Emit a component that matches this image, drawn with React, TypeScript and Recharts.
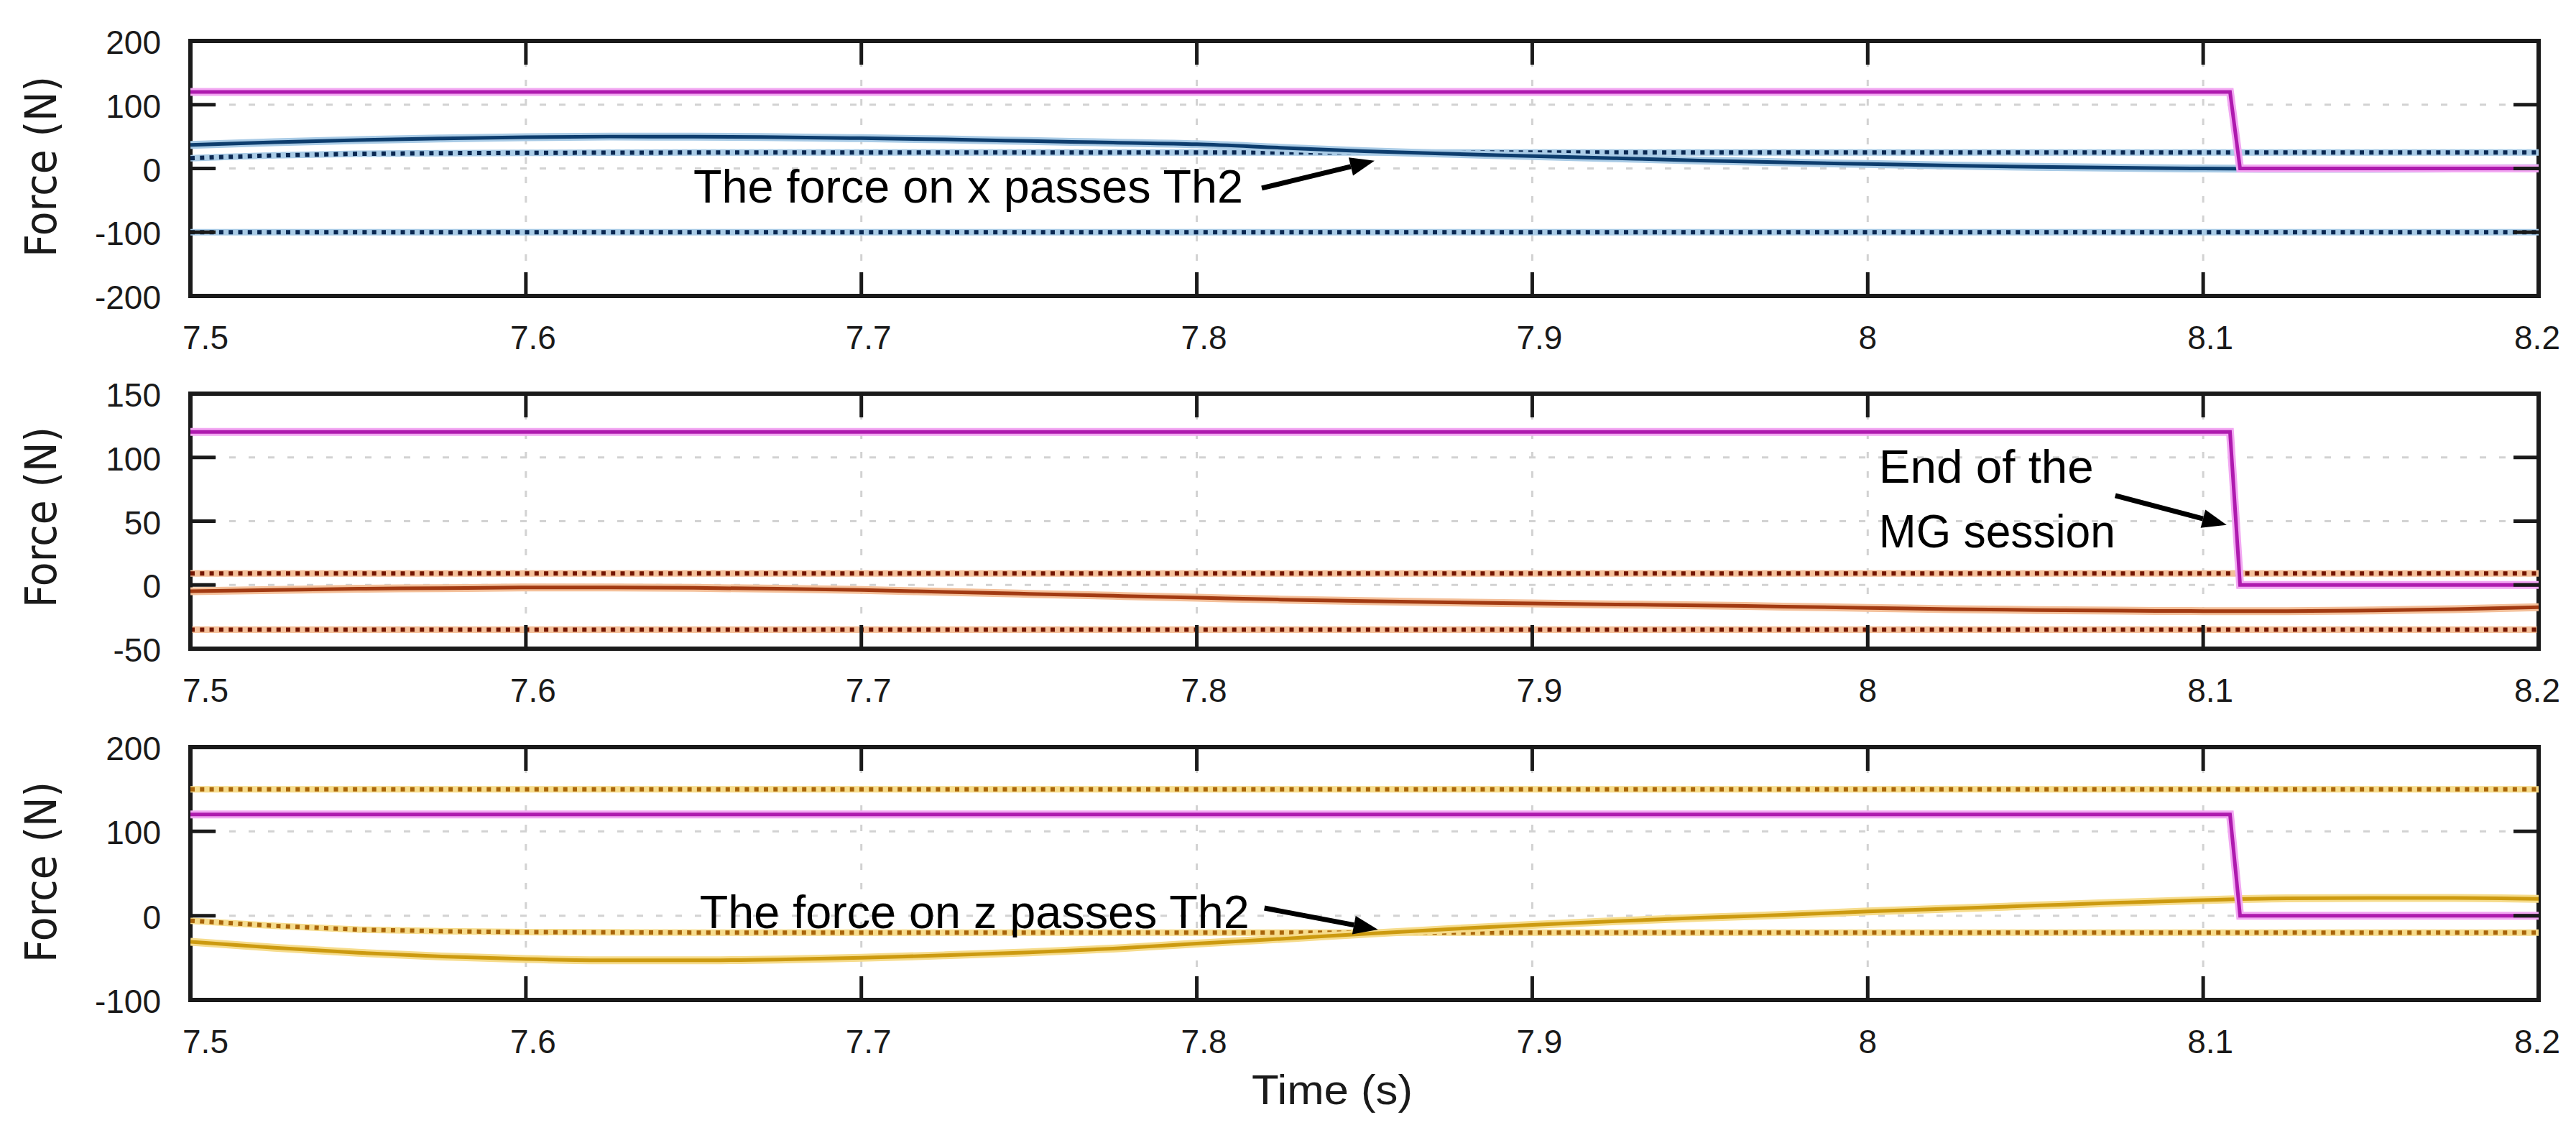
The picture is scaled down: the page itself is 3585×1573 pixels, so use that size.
import React from 'react';
import { LineChart, Line, XAxis, YAxis, CartesianGrid, ReferenceArea, ReferenceDot } from 'recharts';

// ---------------- data ----------------
const timeTicks = [7.5, 7.6, 7.7, 7.8, 7.9, 8.0, 8.1, 8.2];
const timeTickLabels = ['7.5', '7.6', '7.7', '7.8', '7.9', '8', '8.1', '8.2'];

const forceTime = [7.5, 7.525, 7.55, 7.575, 7.6, 7.625, 7.65, 7.675, 7.7, 7.725, 7.75, 7.775, 7.8, 7.825, 7.85, 7.875, 7.9, 7.925, 7.95, 7.975, 8.0, 8.025, 8.05, 8.075, 8.1, 8.125, 8.15, 8.175, 8.2];

const forceX = [37, 41, 44.5, 47, 49, 50, 50, 49, 47.5, 45.5, 43, 40.5, 38, 32.5, 27, 23, 19.5, 16, 12.5, 9.5, 7, 4.5, 2.5, 1, 0, -0.5, -0.5, 0, 0.5];
const forceY = [-5, -4, -3, -2.5, -2, -2, -2.3, -3, -4, -5.5, -7, -8.5, -10, -11.5, -12.7, -13.7, -14.5, -15.3, -16, -17, -18, -19, -19.7, -20.2, -20.5, -20.5, -20, -19, -17.5];
const forceZ = [-31, -38, -44, -48.5, -51.5, -53, -53, -52, -50, -47, -43.5, -39, -33, -27.5, -21.5, -16, -11, -6.5, -2.5, 1, 5, 8.5, 12, 15.5, 18.5, 20.5, 21, 21, 20];

const mgTime = [7.5, 8.108, 8.111, 8.2];
const mgValue = [120, 120, 0, 0];

const thXUpperTime = [7.5, 7.51, 7.525, 7.55, 7.575, 7.6, 7.65, 8.2];
const thXUpper = [16, 18, 20.5, 23, 24, 24.5, 25, 25];
const thXLowerTime = [7.5, 8.2];
const thXLower = [-100, -100];

const thYTime = [7.5, 8.2];
const thYUpper = [9, 9];
const thYLower = [-35, -35];

const thZUpperTime = [7.5, 8.2];
const thZUpper = [150, 150];
const thZLowerTime = [7.5, 7.525, 7.55, 7.575, 7.6, 7.65, 8.2];
const thZLower = [-6, -12, -16.5, -18.5, -19.5, -20, -20];

const yTicks1 = [-200, -100, 0, 100, 200];
const yTicks2 = [-50, 0, 50, 100, 150];
const yTicks3 = [-100, 0, 100, 200];

const toRows = (ts: number[], vs: number[]) => ts.map((t, i) => ({ t, v: vs[i] }));

// ---------------- layout / style ----------------
const W = 3585;
const H = 1573;
const PLOT_LEFT = 265;
const PLOT_RIGHT = 3533;
const Y_AXIS_W = 100;
const X_AXIS_H = 60;
const FONT_TICK = "'Liberation Sans', Arial, sans-serif";
const INK = '#1a1a1a';

const colors = {
  mg: '#ae1aae', mgHalo: '#f2a8f2',
  x: '#0d3d6e', xHalo: '#a9cbe6', xDot: '#0a2852',
  y: '#a23a12', yHalo: '#f4c09a', yDot: '#741600',
  z: '#cc9a10', zHalo: '#f6dc8c', zDot: '#a9650a',
};

const makeYTick = () => (props: any) => {
  const { y, payload } = props;
  return (
    <g>
      <line x1={PLOT_LEFT} x2={PLOT_LEFT + 35} y1={y} y2={y} stroke={INK} strokeWidth={5} />
      <line x1={PLOT_RIGHT - 35} x2={PLOT_RIGHT} y1={y} y2={y} stroke={INK} strokeWidth={5} />
      <text x={224} y={y + 18} textAnchor="end" fontFamily={FONT_TICK} fontSize={46} fill={INK}>
        {payload.value}
      </text>
    </g>
  );
};

const makeXTick = (plotTop: number, plotBottom: number) => (props: any) => {
  const { x, payload } = props;
  const i = timeTicks.findIndex((t) => Math.abs(t - payload.value) < 1e-6);
  const label = i >= 0 ? timeTickLabels[i] : String(payload.value);
  const dx = i === 0 ? 21 : i === timeTicks.length - 1 ? -2 : label === '8' ? 0 : 10;
  return (
    <g>
      <line x1={x} x2={x} y1={plotTop} y2={plotTop + 33} stroke={INK} strokeWidth={5} />
      <line x1={x} x2={x} y1={plotBottom - 33} y2={plotBottom} stroke={INK} strokeWidth={5} />
      <text x={x + dx} y={plotBottom + 74} textAnchor="middle" fontFamily={FONT_TICK} fontSize={46} fill={INK}>
        {label}
      </text>
    </g>
  );
};

type Ann = { t: number; v: number; tailDx: number; tailDy: number; lines: { s: string; dx: number; dy: number; len: number }[] };

const annX: Ann = { t: 7.853, v: 12, tailDx: -157, tailDy: 38, lines: [{ s: 'The force on x passes Th2', dx: -948, dy: 58, len: 765 }] };
const annMG: Ann = { t: 8.107, v: 47, tailDx: -155, tailDy: -41, lines: [{ s: 'End of the', dx: -484, dy: -59, len: 299 }, { s: 'MG session', dx: -484, dy: 31, len: 329 }] };
const annZ: Ann = { t: 7.854, v: -16.5, tailDx: -158, tailDy: -30, lines: [{ s: 'The force on z passes Th2', dx: -944, dy: -2, len: 765 }] };

const arrowShape = (a: Ann) => (props: any) => {
  const { cx, cy } = props;
  const tx = cx + a.tailDx;
  const ty = cy + a.tailDy;
  const len = Math.hypot(cx - tx, cy - ty);
  const ux = (cx - tx) / len;
  const uy = (cy - ty) / len;
  const hl = 34;
  const hw = 13;
  const bx = cx - ux * hl;
  const by = cy - uy * hl;
  const p1 = `${cx},${cy}`;
  const p2 = `${bx - uy * hw},${by + ux * hw}`;
  const p3 = `${bx + uy * hw},${by - ux * hw}`;
  return (
    <g>
      <line x1={tx} y1={ty} x2={bx} y2={by} stroke="#000" strokeWidth={7} />
      <polygon points={`${p1} ${p2} ${p3}`} fill="#000" />
      {a.lines.map((l, i) => (
        <text key={i} x={cx + l.dx} y={cy + l.dy} fontFamily="'Liberation Sans', Arial, sans-serif" fontSize={64} fill="#000" textLength={l.len} lengthAdjust="spacingAndGlyphs">
          {l.s}
        </text>
      ))}
    </g>
  );
};

type Series = { ts: number[]; vs: number[]; kind: 'solid' | 'dot' | 'mg'; color: string; halo: string };

const renderSeries = (s: Series, key: string) => {
  const data = toRows(s.ts, s.vs);
  if (s.kind === 'dot') {
    return [
      <Line key={key + 'h'} data={data} dataKey="v" type="linear" stroke={s.halo} strokeWidth={9} dot={false} isAnimationActive={false} />,
      <Line key={key + 'd'} data={data} dataKey="v" type="linear" stroke={s.color} strokeWidth={6} strokeDasharray="6 7.3" dot={false} isAnimationActive={false} />,
    ];
  }
  const type = s.kind === 'mg' ? 'linear' : 'monotone';
  return [
    <Line key={key + 'h'} data={data} dataKey="v" type={type} stroke={s.halo} strokeWidth={11} dot={false} isAnimationActive={false} />,
    <Line key={key + 'c'} data={data} dataKey="v" type={type} stroke={s.color} strokeWidth={5} dot={false} isAnimationActive={false} />,
  ];
};

type PanelProps = {
  top: number;
  height: number;
  plotTop: number;
  plotBottom: number;
  domain: [number, number];
  ticks: number[];
  series: Series[];
  ann: Ann[];
};

const Panel = ({ top, height, plotTop, plotBottom, domain, ticks, series, ann }: PanelProps) => (
  <div style={{ position: 'absolute', left: 0, top, width: W, height }}>
    <LineChart
      width={W}
      height={height}
      margin={{ top: plotTop, right: W - PLOT_RIGHT, left: PLOT_LEFT - Y_AXIS_W, bottom: height - plotBottom - X_AXIS_H }}
    >
      <CartesianGrid stroke="#d2d2d2" strokeWidth={3} strokeDasharray="9 18" />
      <XAxis
        type="number"
        dataKey="t"
        domain={[7.5, 8.2]}
        ticks={timeTicks}
        interval={0}
        allowDataOverflow
        tickLine={false}
        axisLine={false}
        height={X_AXIS_H}
        tick={makeXTick(plotTop, plotBottom)}
      />
      <YAxis
        type="number"
        domain={domain}
        ticks={ticks}
        interval={0}
        allowDataOverflow
        tickLine={false}
        axisLine={false}
        width={Y_AXIS_W}
        tick={makeYTick()}
      />
      {series.flatMap((s, i) => renderSeries(s, 's' + i))}
      <ReferenceArea x1={7.5} x2={8.2} y1={domain[0]} y2={domain[1]} fill="none" fillOpacity={0} stroke={INK} strokeWidth={6} ifOverflow="visible" />
      {ann.map((a, i) => (
        <ReferenceDot key={'a' + i} x={a.t} y={a.v} r={0} ifOverflow="visible" shape={arrowShape(a)} />
      ))}
    </LineChart>
  </div>
);

const mgSeries: Series = { ts: mgTime, vs: mgValue, kind: 'mg', color: colors.mg, halo: colors.mgHalo };

export default function App() {
  return (
    <div style={{ position: 'absolute', left: 0, top: 0, width: W, height: H, background: '#ffffff', overflow: 'hidden' }}>
      <Panel
        top={0}
        height={500}
        plotTop={57}
        plotBottom={412}
        domain={[-200, 200]}
        ticks={yTicks1}
        series={[
          { ts: thXUpperTime, vs: thXUpper, kind: 'dot', color: colors.xDot, halo: colors.xHalo },
          { ts: thXLowerTime, vs: thXLower, kind: 'dot', color: colors.xDot, halo: colors.xHalo },
          { ts: forceTime, vs: forceX, kind: 'solid', color: colors.x, halo: colors.xHalo },
          mgSeries,
        ]}
        ann={[annX]}
      />
      <Panel
        top={500}
        height={500}
        plotTop={48}
        plotBottom={403}
        domain={[-50, 150]}
        ticks={yTicks2}
        series={[
          { ts: thYTime, vs: thYUpper, kind: 'dot', color: colors.yDot, halo: colors.yHalo },
          { ts: thYTime, vs: thYLower, kind: 'dot', color: colors.yDot, halo: colors.yHalo },
          { ts: forceTime, vs: forceY, kind: 'solid', color: colors.y, halo: colors.yHalo },
          mgSeries,
        ]}
        ann={[annMG]}
      />
      <Panel
        top={1000}
        height={573}
        plotTop={40}
        plotBottom={392}
        domain={[-100, 200]}
        ticks={yTicks3}
        series={[
          { ts: thZUpperTime, vs: thZUpper, kind: 'dot', color: colors.zDot, halo: colors.zHalo },
          { ts: thZLowerTime, vs: thZLower, kind: 'dot', color: colors.zDot, halo: colors.zHalo },
          { ts: forceTime, vs: forceZ, kind: 'solid', color: colors.z, halo: colors.zHalo },
          mgSeries,
        ]}
        ann={[annZ]}
      />
      <svg width={W} height={H} style={{ position: 'absolute', left: 0, top: 0, pointerEvents: 'none' }}>
        {[232, 720, 1214].map((cy, i) => (
          <text
            key={i}
            x={0}
            y={0}
            transform={`translate(${78}, ${cy}) rotate(-90)`}
            textAnchor="middle"
            fontFamily="'DejaVu Sans', Verdana, sans-serif"
            fontSize={60}
            fill={INK}
            textLength={252}
            lengthAdjust="spacingAndGlyphs"
          >
            Force (N)
          </text>
        ))}
        <text x={1742} y={1537} fontFamily="'Liberation Sans', Arial, sans-serif" fontSize={58} fill={INK} textLength={224} lengthAdjust="spacingAndGlyphs">
          Time (s)
        </text>
      </svg>
    </div>
  );
}
